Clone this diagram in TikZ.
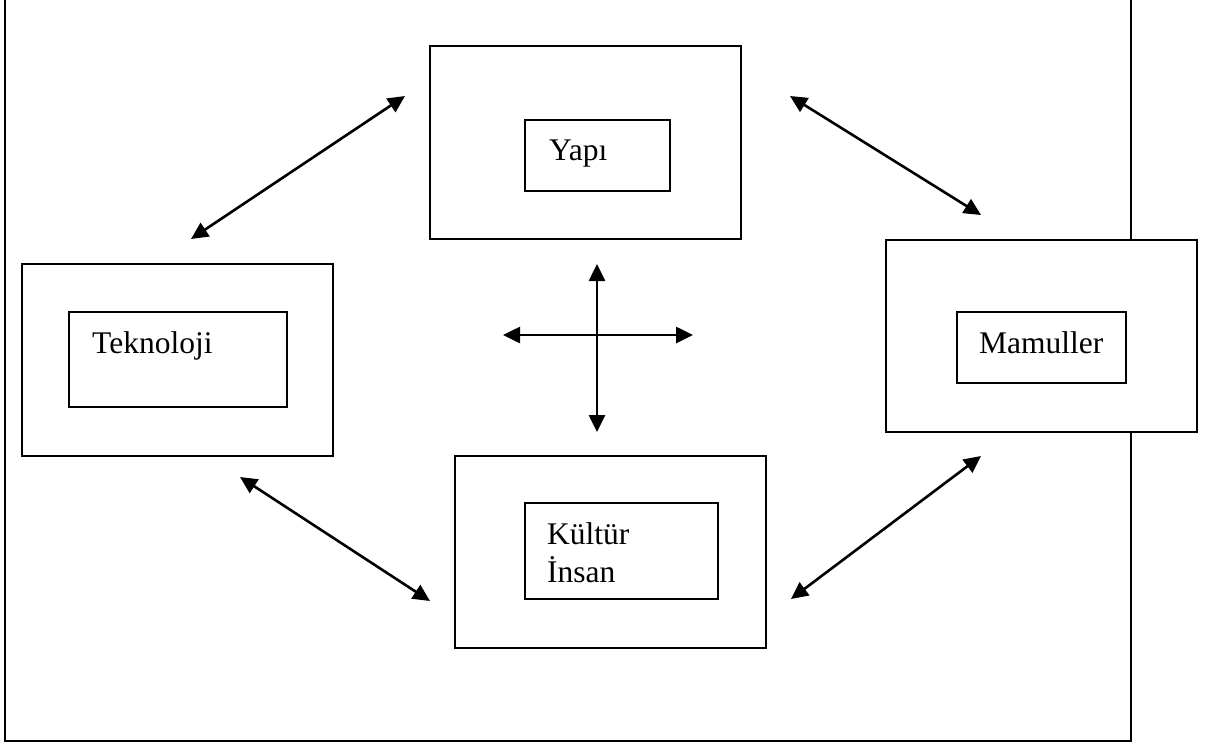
\documentclass[tikz,border=0pt]{standalone}
\usepackage{fontspec}
\setmainfont{Liberation Serif}
\usetikzlibrary{arrows.meta}
\begin{document}
\begin{tikzpicture}[x=1pt,y=-1pt,
  outerbox/.style={draw, line width=2pt, fill=white, inner sep=0pt, minimum width=#1},
  innerbox/.style={draw, line width=2pt, fill=white, inner sep=0pt},
  label/.style={anchor=base west, inner sep=0pt, font=\fontsize{31.5}{38}\selectfont},
  link/.style={line width=2.6pt, {Triangle[length=17pt,width=16pt]}-{Triangle[length=17pt,width=16pt]}}]
\useasboundingbox (0,0) rectangle (1213,747);
% open frame (no top edge)
\draw[line width=2.2pt] (5,0) -- (5,741) -- (1131,741) -- (1131,0);

% outer boxes
\node[outerbox=311pt, minimum height=193pt] (yapiO) at (585.5,142.5) {};
\node[outerbox=311pt, minimum height=192pt] (tekO)  at (177.5,360) {};
\node[outerbox=311pt, minimum height=192pt] (mamO)  at (1041.5,336) {};
\node[outerbox=311pt, minimum height=192pt] (kulO)  at (610.5,552) {};

% inner boxes
\node[innerbox, minimum width=145pt, minimum height=71pt] (yapiI) at (597.5,155.5) {};
\node[innerbox, minimum width=218pt, minimum height=95pt] (tekI)  at (178,359.5) {};
\node[innerbox, minimum width=169pt, minimum height=71pt] (mamI)  at (1041.5,347.5) {};
\node[innerbox, minimum width=193pt, minimum height=96pt] (kulI)  at (621.5,551) {};

% labels
\node[label] (yapiT) at (549,160) {Yapı};
\node[label] (tekT)  at (92,353) {Teknoloji};
\node[label] (mamT)  at (979,353) {Mamuller};
\node[label] (kulT)  at (547,544) {Kültür};
\node[label] (insT)  at (547,582) {İnsan};

% connector end points
\coordinate (a1) at (191,239);
\coordinate (a2) at (405,96);
\coordinate (b1) at (790,96);
\coordinate (b2) at (981,215);
\coordinate (c1) at (240,477);
\coordinate (c2) at (430,601);
\coordinate (d1) at (791,599);
\coordinate (d2) at (981,456);
\coordinate (vT) at (597,264);
\coordinate (vB) at (597,432);
\coordinate (hL) at (503,335);
\coordinate (hR) at (693,335);

\draw[link] (a1) -- (a2);
\draw[link] (b1) -- (b2);
\draw[link] (c1) -- (c2);
\draw[link] (d1) -- (d2);
\draw[link] (vT) -- (vB);
\draw[link] (hL) -- (hR);
\end{tikzpicture}
\end{document}
